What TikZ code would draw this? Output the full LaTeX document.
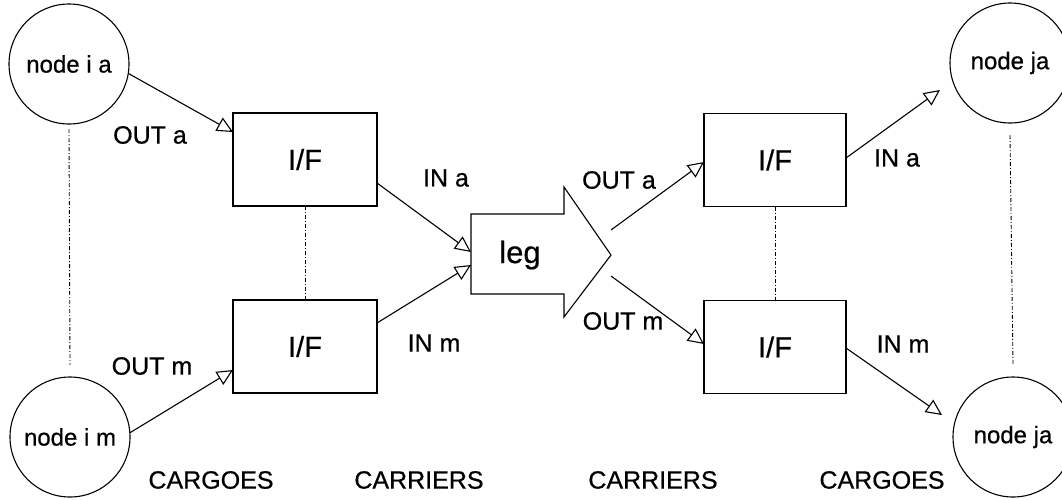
\documentclass[tikz,border=0pt]{standalone}
\usepackage{fontspec}
\setmainfont{Liberation Sans}
\newfontfamily\scanfont{Liberation Sans}[FakeBold=0.6]
\usetikzlibrary{arrows.meta}
\begin{document}
\begin{tikzpicture}[x=1pt,y=-1pt,
  every node/.style={inner sep=0pt, outer sep=0pt},
  lbl/.style={font=\scanfont\fontsize{25}{28}\selectfont},
  cargo/.style={circle, draw, line width=1.1pt, minimum size=120pt, font=\scanfont\fontsize{24}{27}\selectfont},
  ifbox/.style={rectangle, draw, line width=1.1pt, minimum width=144pt, minimum height=93pt, font=\scanfont\fontsize{29}{33}\selectfont},
  conn/.style={line width=1.1pt, -{Triangle[open, length=16pt, width=15pt, line width=1.1pt]}},
  dotline/.style={line width=0.9pt, dash pattern=on 4pt off 2pt on 1pt off 2pt}
]
\useasboundingbox (0,0) rectangle (1062,499);
% cargo nodes
\node[cargo] (ia) at (69,64) {node i a};
\node[cargo] (im) at (70,437) {node i m};
\node[cargo] (ja) at (1010,63) {node ja};
\node[cargo] (jm) at (1013,437) {node ja};
% interface boxes
\node[ifbox] (ifl1) at (305,159.5) {I/F};
\node[ifbox] (ifl2) at (305,346.5) {I/F};
\node[ifbox, minimum width=142pt] (ifr1) at (775,160) {I/F};
\node[ifbox, minimum width=142pt] (ifr2) at (775,347) {I/F};
% leg arrow
\draw[line width=1.1pt, fill=white] (471,214) -- (564,214) -- (564,187) -- (611,255) -- (564,317) -- (564,294) -- (471,294) -- cycle;
\node[font=\scanfont\fontsize{31}{35}\selectfont] (leg) at (520,255) {leg};
\coordinate (legin1) at (471,252);
\coordinate (legin2) at (471,265);
\coordinate (legout1) at (611,230);
\coordinate (legout2) at (611,276);
\coordinate (tipja) at (940,90);
\coordinate (tipjm) at (942,415);
% connectors
\draw[conn] (ia.-9) -- ([yshift=27.5pt]ifl1.west);
\draw[conn] (im.4) -- ([yshift=-23.5pt]ifl2.west);
\draw[conn] ([yshift=-23.5pt]ifl1.east) -- (legin1);
\draw[conn] ([yshift=23.5pt]ifl2.east) -- (legin2);
\draw[conn] (legout1) -- ([yshift=-2pt]ifr1.west);
\draw[conn] (legout2) -- ([yshift=3pt]ifr2.west);
\draw[conn] ([yshift=2pt]ifr1.east) -- (tipja);
\draw[conn] ([yshift=-1pt]ifr2.east) -- (tipjm);
% dotted lines
\draw[dotline] ([yshift=-5pt]ia.south) -- ([yshift=12pt]im.north);
\draw[dotline] ([yshift=-12pt]ja.south) -- ([yshift=12pt]jm.north);
\draw[dotline] (ifl1.south) -- (ifl2.north);
\draw[dotline] (ifr1.south) -- (ifr2.north);
% labels
\node[lbl] (l1) at (150,135) {OUT a};
\node[lbl] (l2) at (152,366) {OUT m};
\node[lbl] (l3) at (446,178) {IN a};
\node[lbl] (l4) at (434,343) {IN m};
\node[lbl] (l5) at (619,180) {OUT a};
\node[lbl] (l6) at (623,321) {OUT m};
\node[lbl] (l7) at (897,158) {IN a};
\node[lbl] (l8) at (903,344) {IN m};
\node[lbl] (c1) at (211,480) {CARGOES};
\node[lbl] (c2) at (419,480) {CARRIERS};
\node[lbl] (c3) at (653,480) {CARRIERS};
\node[lbl] (c4) at (882,480) {CARGOES};
\end{tikzpicture}
\end{document}
